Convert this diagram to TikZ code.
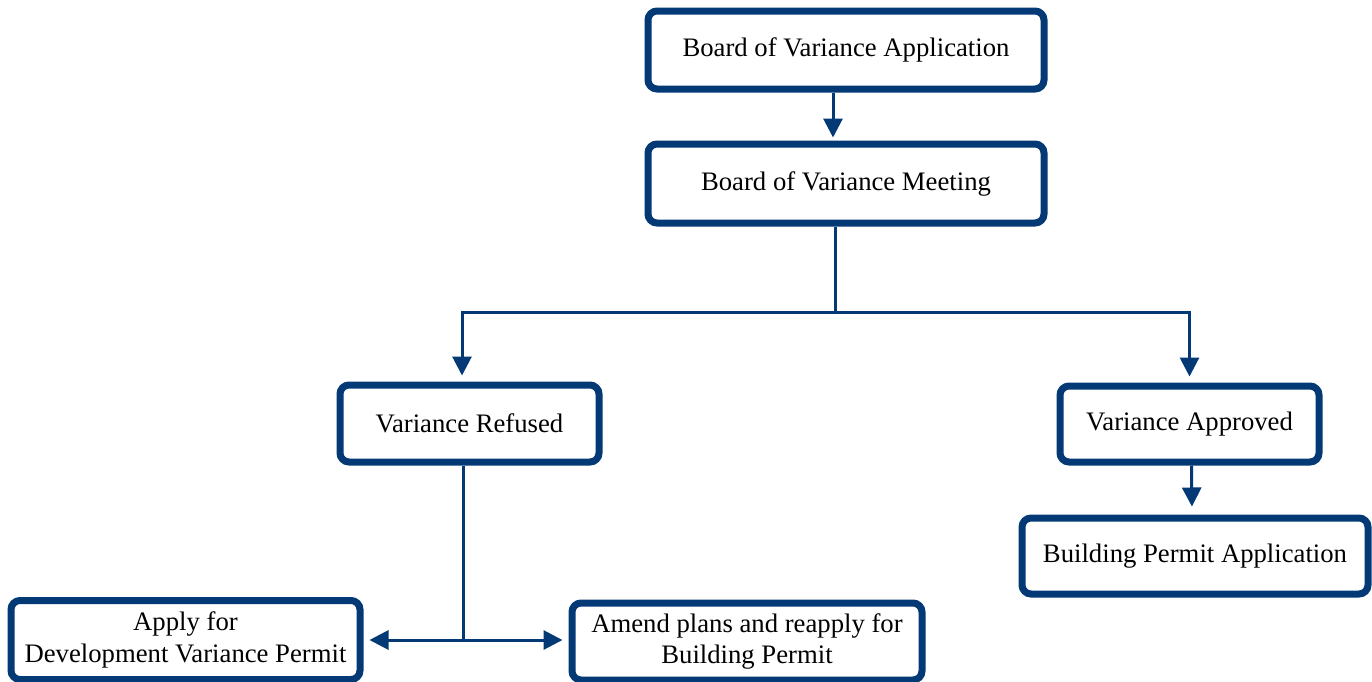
\documentclass[tikz,border=0pt]{standalone}
\usepackage{fontspec}
\setmainfont{Liberation Serif}
\usetikzlibrary{arrows.meta}
\definecolor{navy}{RGB}{3,58,117}
\begin{document}
\begin{tikzpicture}[x=1pt,y=-1pt,
  box/.style={draw=navy, line width=7pt, rounded corners=9pt, fill=white,
    align=center, inner sep=0pt, font=\fontsize{26.7}{31.5}\selectfont},
  conn/.style={draw=navy, line width=3pt},
  arr/.style={conn, -{Triangle[width=19pt,length=19pt]}, shorten >=6pt}]
\clip (0,0) rectangle (1372,681);
\fill[white] (0,0) rectangle (1372,681);

% process boxes
\node[box, minimum width=396pt, minimum height=78pt] (app) at (846,50) {Board of Variance Application};
\node[box, minimum width=396pt, minimum height=79pt] (meet) at (846,183.5) {Board of Variance Meeting};
\node[box, minimum width=259pt, minimum height=77pt] (refused) at (469.5,423.5) {Variance Refused};
\node[box, minimum width=259pt, minimum height=76pt] (approved) at (1189.5,424) {Variance Approved};
\node[box, minimum width=346pt, minimum height=76pt] (bpa) at (1195,556) {Building Permit Application};
\node[box, minimum width=349pt, minimum height=79pt] (dvp) at (185.5,640) {Apply for\\Development Variance Permit};
\node[box, minimum width=350pt, minimum height=77pt] (amend) at (747,641.5) {Amend plans and reapply for\\Building Permit};

% connectors
\draw[arr, shorten >=3pt] ([xshift=-13pt]app.south) -- ([xshift=-13pt]meet.north);
\coordinate (split) at (835,312);
\draw[conn] ([xshift=-11pt]meet.south) -- (split);
\draw[arr] (split) -| ([xshift=-7.5pt]refused.north);
\draw[arr] (split) -| (approved.north);
\draw[arr, shorten >=8pt] ([xshift=2pt]approved.south) -- ([xshift=-3pt]bpa.north);
\coordinate (fork) at (463,640);
\draw[conn] ([xshift=-6.5pt]refused.south) -- (fork);
\draw[arr] (fork) -- (fork -| dvp.east);
\draw[arr] (fork) -- (fork -| amend.west);
\end{tikzpicture}
\end{document}
